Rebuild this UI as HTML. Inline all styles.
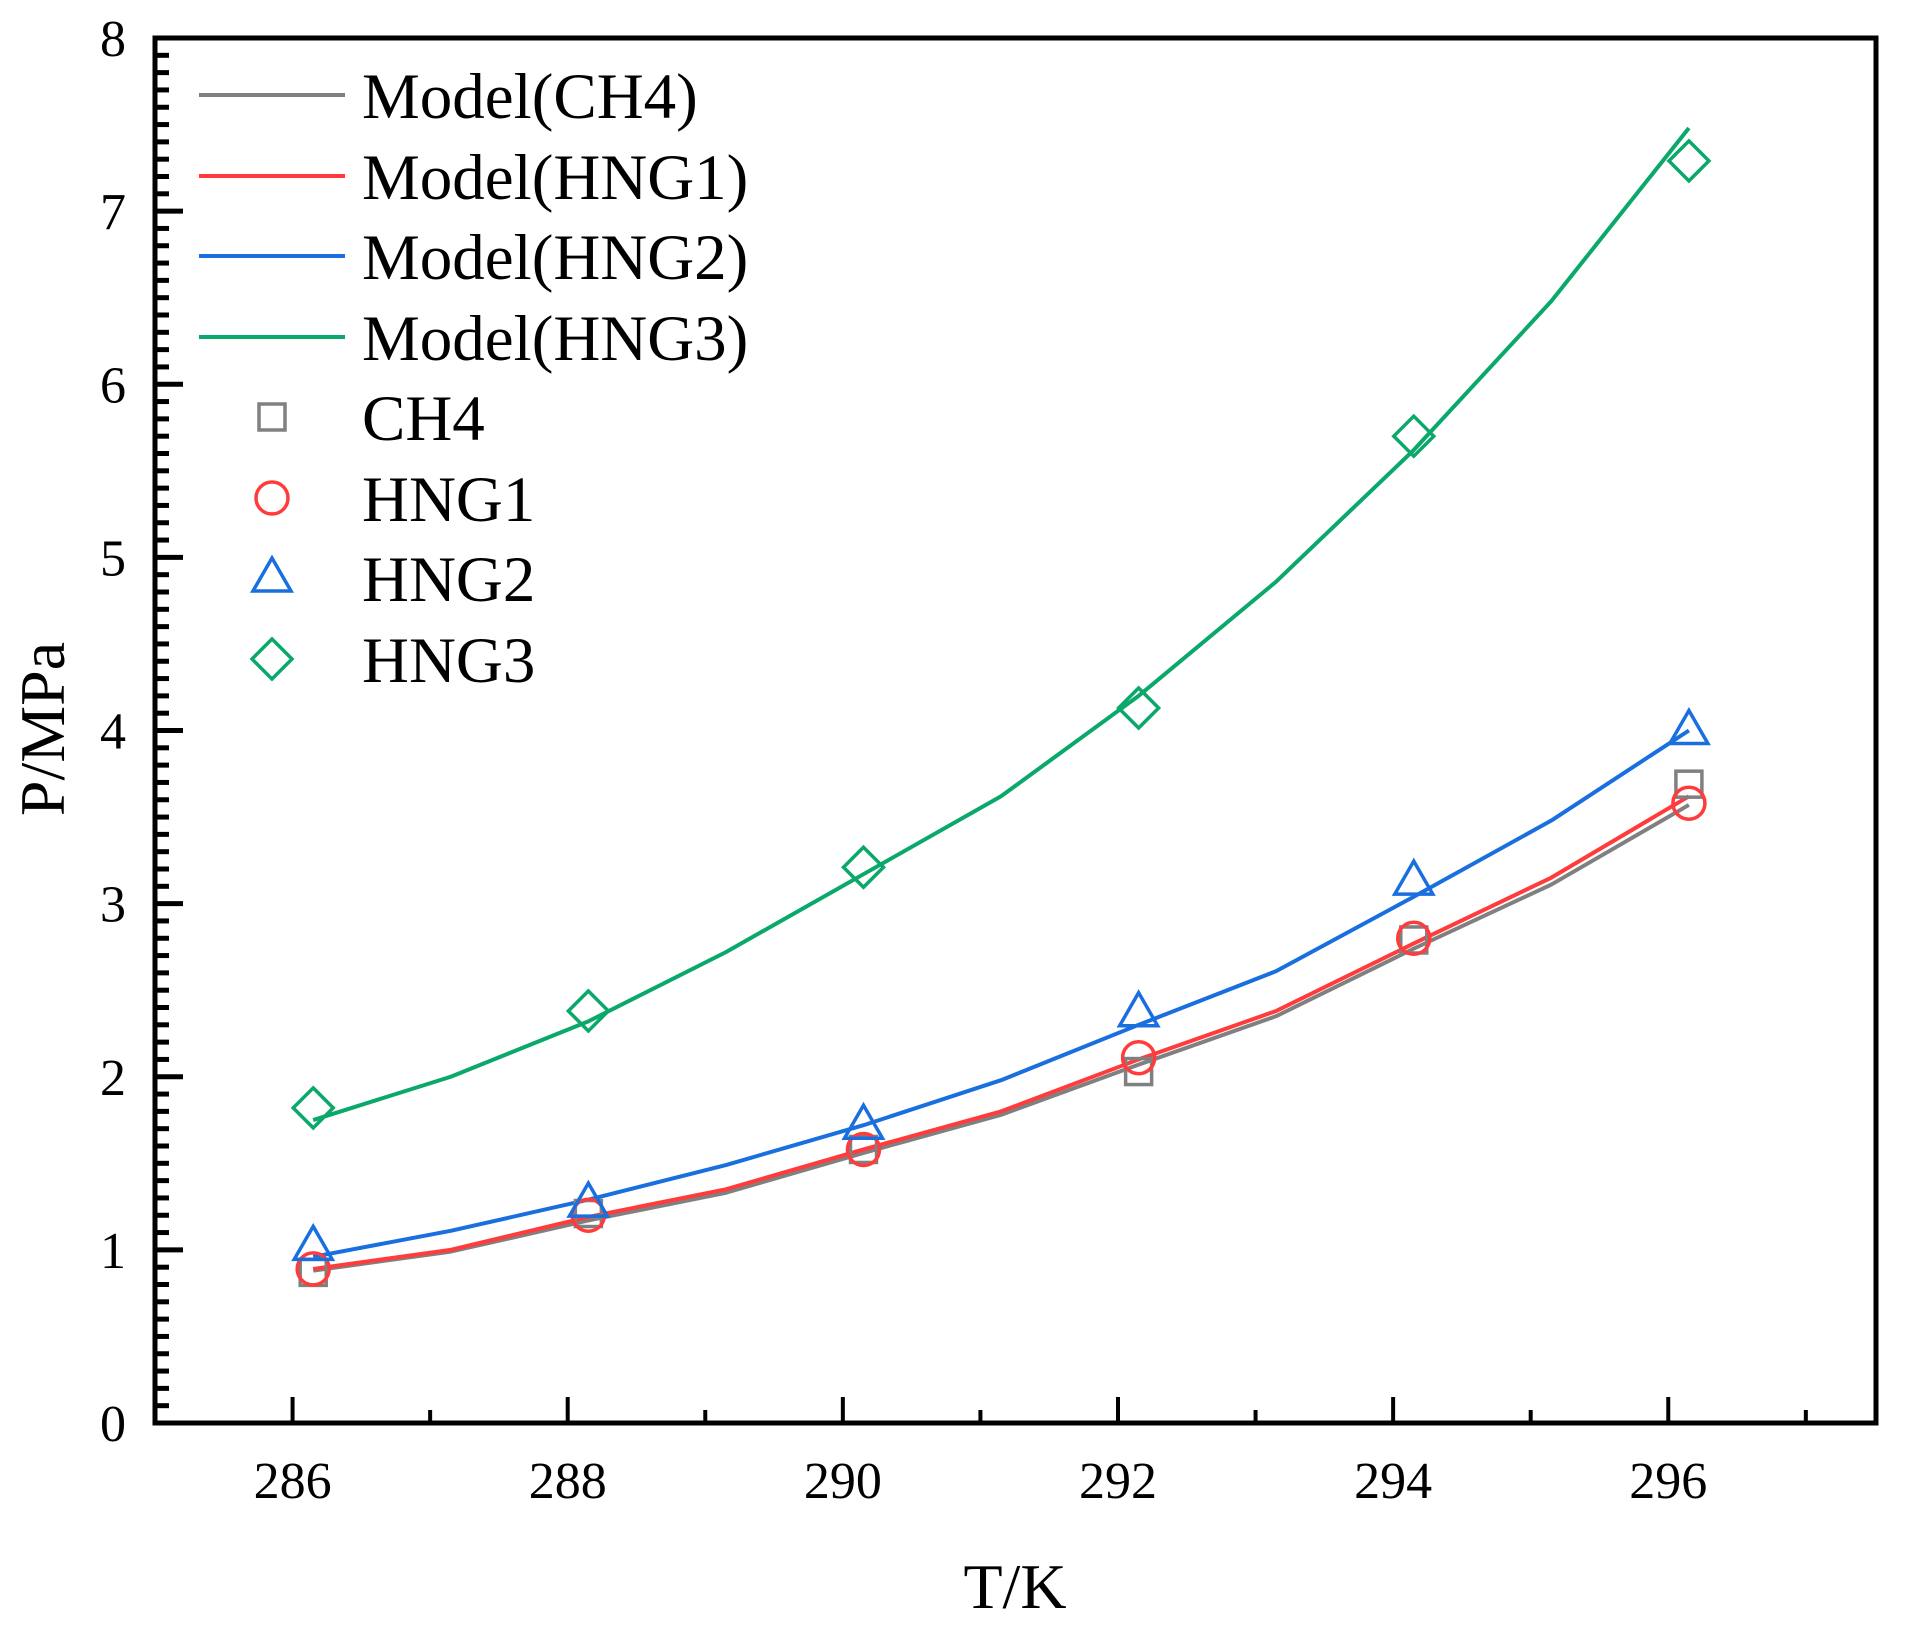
<!DOCTYPE html>
<html><head><meta charset="utf-8"><style>
html,body{margin:0;padding:0;background:#fff}
svg{display:block;font-family:"Liberation Serif","Times New Roman",serif}
svg text{font-family:"Liberation Serif","Times New Roman",serif}
</style></head><body>
<svg id="chart" width="1912" height="1637" viewBox="0 0 1912 1637" xmlns="http://www.w3.org/2000/svg">
<g id="plot"></g>
</svg>
<script>
const lineT = [286.15,287.15,288.15,289.15,290.15,291.15,292.15,293.15,294.15,295.15,296.15];
const modelCH4 = [0.88,0.99,1.17,1.33,1.56,1.78,2.07,2.35,2.74,3.11,3.57];
const modelHNG1 = [0.89,1.00,1.19,1.35,1.58,1.80,2.10,2.38,2.77,3.15,3.62];
const modelHNG2 = [0.96,1.11,1.29,1.49,1.72,1.98,2.30,2.61,3.04,3.48,4.00];
const modelHNG3 = [1.75,2.00,2.32,2.72,3.17,3.62,4.20,4.86,5.62,6.48,7.48];
const expT = [286.15,288.15,290.15,292.15,294.15,296.15];
const expCH4 = [0.87,1.21,1.58,2.03,2.79,3.69];
const expHNG1 = [0.89,1.20,1.58,2.11,2.80,3.58];
const expHNG2 = [1.02,1.27,1.72,2.37,3.13,4.00];
const expHNG3 = [1.82,2.38,3.21,4.13,5.70,7.29];
const xTicks = [286,288,290,292,294,296];
const yTicks = [0,1,2,3,4,5,6,7,8];

const L=155,R=1876,T=38,B=1423;
const xMin=285.0,xMax=297.51,yMin=0,yMax=8;
const sx=v=>L+(v-xMin)/(xMax-xMin)*(R-L);
const sy=v=>B-(v-yMin)/(yMax-yMin)*(B-T);
const NS="http://www.w3.org/2000/svg";
const FF='"Liberation Serif","Times New Roman",serif';
const g=document.getElementById('plot');
function mk(tag,attrs,parent){const e=document.createElementNS(NS,tag);for(const k in attrs)e.setAttribute(k,attrs[k]);if(tag==='text')e.setAttribute('font-family',FF);(parent||g).appendChild(e);return e;}

for(let v=0;v<=80;v++){
  const y=sy(v/10);const major=v%10===0;
  const t=mk('line',{x1:L,x2:L+(major?28:14),y1:y,y2:y,stroke:'#000','stroke-width':5});
  
  
}
for(let v=286;v<=297;v++){
  const x=sx(v);const major=(v%2===0);
  const t=mk('line',{x1:x,x2:x,y1:B,y2:B-(major?26:13),stroke:'#000','stroke-width':4});
  
  
}
yTicks.forEach(v=>{
  const t=mk('text',{x:113,y:sy(v)+18,'font-size':52,'text-anchor':'middle'});
  t.textContent=v;
  
  
});
xTicks.forEach(v=>{
  const t=mk('text',{x:sx(v),y:1498,'font-size':52,'text-anchor':'middle'});
  t.textContent=v;
  
  
});
const xt=mk('text',{x:1015,y:1608,'font-size':64,'text-anchor':'middle'});
xt.textContent='T/K';


const yt=mk('text',{x:0,y:0,'font-size':64,'text-anchor':'middle',transform:'translate(64,729) rotate(-90)'});
yt.textContent='P/MPa';



const colors={ch4:'#808080',h1:'#ff3b3b',h2:'#1a6fdf',h3:'#0aa86a'};
function line(ys,c,name){
  const p=mk('polyline',{points:lineT.map((t,i)=>sx(t)+','+sy(ys[i])).join(' '),fill:'none',stroke:c,'stroke-width':4,'stroke-linejoin':'round'});
  
  
}
function marker(type,x,y,c,name){
  let e;
  if(type==='sq')e=mk('rect',{x:x-13,y:y-13,width:26,height:26,fill:'none',stroke:c,'stroke-width':3.5});
  else if(type==='ci')e=mk('circle',{cx:x,cy:y,r:16,fill:'none',stroke:c,'stroke-width':3.5});
  else if(type==='tr')e=mk('polygon',{points:`${x},${y-20} ${x+19},${y+13} ${x-19},${y+13}`,fill:'none',stroke:c,'stroke-width':3.5});
  else e=mk('polygon',{points:`${x},${y-20} ${x+20},${y} ${x},${y+20} ${x-20},${y}`,fill:'none',stroke:c,'stroke-width':3.5});
  
  
}
line(modelCH4,colors.ch4,'model-ch4-line');
line(modelHNG1,colors.h1,'model-hng1-line');
line(modelHNG2,colors.h2,'model-hng2-line');
line(modelHNG3,colors.h3,'model-hng3-line');
expT.forEach((t,i)=>marker('sq',sx(t),sy(expCH4[i]),colors.ch4,'ch4-point'));
expT.forEach((t,i)=>marker('ci',sx(t),sy(expHNG1[i]),colors.h1,'hng1-point'));
expT.forEach((t,i)=>marker('tr',sx(t),sy(expHNG2[i]),colors.h2,'hng2-point'));
expT.forEach((t,i)=>marker('di',sx(t),sy(expHNG3[i]),colors.h3,'hng3-point'));

const fr=mk('rect',{x:L,y:T,width:R-L,height:B-T,fill:'none',stroke:'#000','stroke-width':5});



const legLines=[['Model(CH4)',colors.ch4],['Model(HNG1)',colors.h1],['Model(HNG2)',colors.h2],['Model(HNG3)',colors.h3]];
const ly=[95,176,256,337];
legLines.forEach((d,i)=>{
  const l=mk('line',{x1:199,x2:345,y1:ly[i],y2:ly[i],stroke:d[1],'stroke-width':4});
  
  
  const t=mk('text',{x:362,y:ly[i]+23,'font-size':65});
  t.textContent=d[0];
  
  
});
const legPts=[['CH4','sq',colors.ch4],['HNG1','ci',colors.h1],['HNG2','tr',colors.h2],['HNG3','di',colors.h3]];
const py=[417,498,578,659];
legPts.forEach((d,i)=>{
  marker(d[1],272,py[i],d[2],'legend-marker');
  const t=mk('text',{x:362,y:py[i]+23,'font-size':65});
  t.textContent=d[0];
  
  
});
</script>
</body></html>
